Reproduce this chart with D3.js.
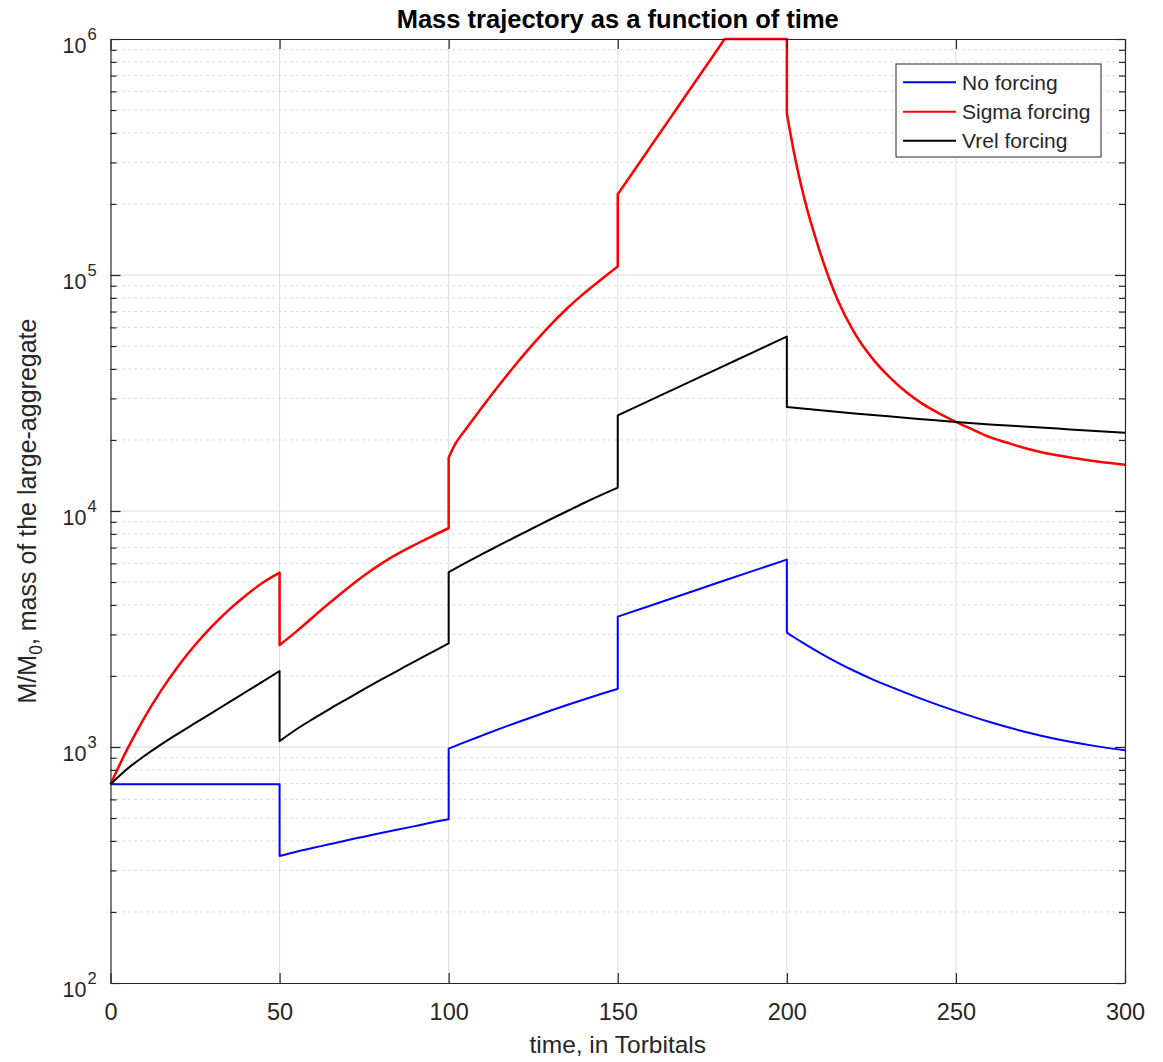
<!DOCTYPE html>
<html><head><meta charset="utf-8">
<script src="https://cdn.jsdelivr.net/npm/d3@7"></script>
<style>body{margin:0;background:#fff;} text{font-family:"Liberation Sans",Arial,sans-serif;}</style>
</head><body><svg id="c" width="1163" height="1062"></svg>
<script>
// ---- data ----
const xTicks = [0, 50, 100, 150, 200, 250, 300];
const yDecades = [100, 1000, 10000, 100000, 1000000];
const yExponents = ["2", "3", "4", "5", "6"];
const seriesNames = ["No forcing", "Sigma forcing", "Vrel forcing"];

const timeNo = [0,10,20,30,40,50, 50,55,60,65,70,75,80,85,90,95,100, 100,105,110,115,120,125,130,135,140,145,150, 150,160,170,180,190,200, 200,202,205,210,215,220,225,230,240,250,260,270,280,290,300];
const massNo = [695,695,695,695,695,695, 345,360,374,388,403,417,432,447,462,479,494, 984,1051,1120,1193,1267,1344,1424,1506,1590,1676,1764, 3568,3989,4460,4987,5575,6223, 3055,2924,2748,2495,2280,2099,1945,1816,1596,1419,1276,1164,1079,1016,968];

const timeSigma = [0,5,10,15,20,25,30,35,40,45,50, 50,55,60,65,70,75,80,85,90,95,100, 100,102,105,110,115,120,125,130,135,140,145,150, 150,155,160,165,170,175,180,181.6, 181.6,185,190,195,200, 200,202,205,210,215,220,225,230,235,240,245,250,255,260,265,270,275,280,285,290,295,300];
const massSigma = [695,982,1330,1738,2198,2704,3243,3811,4385,4966,5483, 2704,3090,3565,4102,4699,5333,5970,6592,7194,7816,8453, 16830,19280,22130,27670,34280,42070,51050,61230,72110,83560,95500,108600, 220000,279000,355000,451000,573000,728000,925000,1000000, 1000000,1000000,1000000,1000000,1000000, 484000,337300,215800,122700,78520,56890,44870,37330,32140,28510,25940,23880,22130,20560,19500,18530,17780,17220,16750,16330,16000,15700];

const timeVrel = [0,5,10,15,20,25,30,35,40,45,50, 50,55,60,65,70,75,80,85,90,95,100, 100,105,110,115,120,125,130,135,140,145,150, 150,160,170,180,190,200, 200,210,220,230,240,250,260,270,280,290,300];
const massVrel = [695,809,916,1026,1140,1262,1396,1545,1710,1892,2099, 1059,1189,1318,1455,1600,1758,1928,2109,2307,2518,2748, 5514,6026,6577,7161,7798,8472,9204,9977,10810,11670,12560, 25440,29660,34580,40330,47020,54830, 27600,26700,25920,25180,24490,23830,23280,22800,22340,21880,21480];

const colors = ["#0000ff", "#ff0000", "#000000"];

// ---- layout ----
const L = 110.5, R = 1125, T = 39, B = 983;
const svg = d3.select("#c");
const x = d3.scaleLinear().domain([0, 300]).range([L, R]);
const y = d3.scaleLog().domain([100, 1e6]).range([B, T]);

const minors = [];
for (let d = 100; d < 1e6; d *= 10) for (let k = 2; k <= 9; k++) minors.push(d * k);

// grid
const grid = svg.append("g");
grid.selectAll(".ym").data(minors).join("line")
  .attr("x1", L).attr("x2", R).attr("y1", d => y(d)).attr("y2", d => y(d))
  .attr("stroke", "#cfcfcf").attr("stroke-width", 1).attr("stroke-dasharray", "2,4");
grid.selectAll(".yM").data(yDecades.slice(1, -1)).join("line")
  .attr("x1", L).attr("x2", R).attr("y1", d => y(d)).attr("y2", d => y(d))
  .attr("stroke", "#dcdcdc").attr("stroke-width", 1);
grid.selectAll(".xM").data(xTicks.slice(1, -1)).join("line")
  .attr("y1", T).attr("y2", B).attr("x1", d => x(d)).attr("x2", d => x(d))
  .attr("stroke", "#dcdcdc").attr("stroke-width", 1);

// lines: smooth each continuous piece, join pieces with straight jumps
const smooth = d3.line().x(d => x(d[0])).y(d => y(d[1])).curve(d3.curveMonotoneX);
function piecePath(ts, ms) {
  const pts = d3.zip(ts, ms);
  const pieces = [];
  let cur = [pts[0]];
  for (let i = 1; i < pts.length; i++) {
    if (pts[i][0] === pts[i - 1][0]) { pieces.push(cur); cur = [pts[i]]; }
    else cur.push(pts[i]);
  }
  pieces.push(cur);
  let d = "";
  pieces.forEach((p, i) => {
    let s = p.length > 1 ? smooth(p) : `M${x(p[0][0])},${y(p[0][1])}`;
    if (i > 0) s = "L" + s.slice(1);
    d += s;
  });
  return d;
}
const series = [[timeNo, massNo], [timeSigma, massSigma], [timeVrel, massVrel]];
series.forEach((s, i) => {
  svg.append("path").attr("d", piecePath(s[0], s[1]))
    .attr("fill", "none").attr("stroke", colors[i])
    .attr("stroke-width", i === 1 ? 2.5 : 2).attr("stroke-linejoin", "round");
});

// axes
const axisColor = "#262626";
function styleAxis(g) {
  g.selectAll("path.domain").attr("stroke", axisColor).attr("stroke-width", 1.2);
  g.selectAll(".tick line").attr("stroke", axisColor).attr("stroke-width", 1.2);
}
const gB = svg.append("g").attr("transform", `translate(0,${B})`)
  .call(d3.axisBottom(x).tickValues(xTicks).tickSize(-10).tickSizeOuter(0).tickPadding(20).tickFormat(d3.format("d")));
styleAxis(gB);
gB.selectAll(".tick text").attr("font-size", 23.5).attr("fill", axisColor)
  .attr("font-family", "Liberation Sans, Arial, sans-serif");
const gT = svg.append("g").attr("transform", `translate(0,${T})`)
  .call(d3.axisTop(x).tickValues(xTicks).tickSize(-10).tickSizeOuter(0).tickFormat(""));
styleAxis(gT);
const gL = svg.append("g").attr("transform", `translate(${L},0)`)
  .call(d3.axisLeft(y).tickValues(yDecades).tickSize(-10).tickSizeOuter(0).tickFormat(""));
styleAxis(gL);
const gLm = svg.append("g").attr("transform", `translate(${L},0)`)
  .call(d3.axisLeft(y).tickValues(minors).tickSize(-6).tickSizeOuter(0).tickFormat(""));
styleAxis(gLm); gLm.select("path.domain").remove();
const gR = svg.append("g").attr("transform", `translate(${R},0)`)
  .call(d3.axisRight(y).tickValues(yDecades).tickSize(-10).tickSizeOuter(0).tickFormat(""));
styleAxis(gR);
const gRm = svg.append("g").attr("transform", `translate(${R},0)`)
  .call(d3.axisRight(y).tickValues(minors).tickSize(-6).tickSizeOuter(0).tickFormat(""));
styleAxis(gRm); gRm.select("path.domain").remove();

// y tick labels 10^n
yDecades.forEach((d, i) => {
  svg.append("text").attr("x", 86.5).attr("y", y(d) + 14)
    .attr("text-anchor", "end").attr("fill", axisColor).attr("font-size", 21.5).text("10");
  svg.append("text").attr("x", 87.5).attr("y", y(d) + 1)
    .attr("fill", axisColor).attr("font-size", 16.5).text(yExponents[i]);
});

// title
svg.append("text").attr("x", (L + R) / 2).attr("y", 28).attr("text-anchor", "middle")
  .attr("font-weight", "bold").attr("font-size", 25.5).attr("fill", "#000")
  .text("Mass trajectory as a function of time");

// x label
svg.append("text").attr("x", (L + R) / 2).attr("y", 1053).attr("text-anchor", "middle")
  .attr("font-size", 24.5).attr("fill", axisColor).text("time, in Torbitals");

// y label
const yl = svg.append("text").attr("transform", `translate(36,${(T + B) / 2}) rotate(-90)`)
  .attr("text-anchor", "middle").attr("font-size", 25).attr("fill", axisColor);
yl.append("tspan").text("M/M");
yl.append("tspan").attr("font-size", 17.5).attr("dy", 6).text("0");
yl.append("tspan").attr("dy", -6).text(", mass of the large-aggregate");

// legend
const lg = svg.append("g");
lg.append("rect").attr("x", 896).attr("y", 64).attr("width", 205).attr("height", 93)
  .attr("fill", "#fff").attr("stroke", axisColor).attr("stroke-width", 1);
const rowY = [82.3, 111.7, 140.7];
seriesNames.forEach((n, i) => {
  lg.append("line").attr("x1", 903).attr("x2", 956).attr("y1", rowY[i]).attr("y2", rowY[i])
    .attr("stroke", colors[i]).attr("stroke-width", 2);
  lg.append("text").attr("x", 962).attr("y", rowY[i] + 7.5).attr("font-size", 21)
    .attr("fill", axisColor).text(n);
});
</script></body></html>
